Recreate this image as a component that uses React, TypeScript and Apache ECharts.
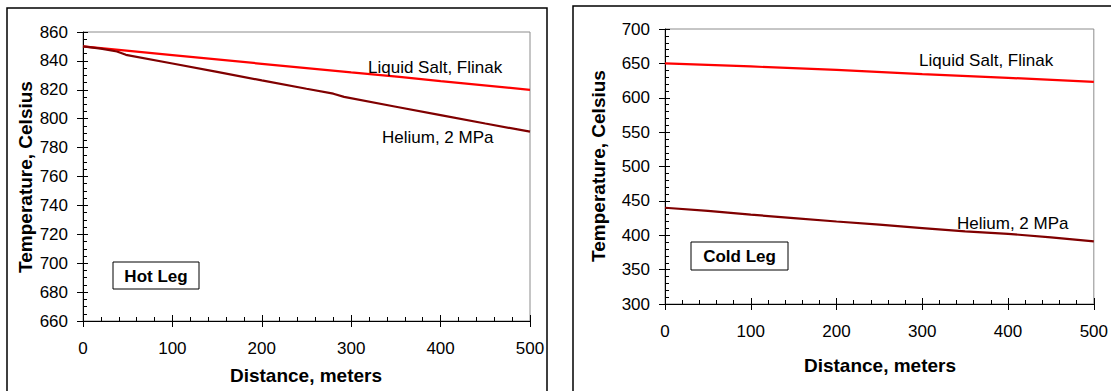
import React, { useEffect, useRef } from "react";
import * as echarts from "echarts";

// Distance (m) vs temperature (°C)
const hotSalt: [number, number][] = [[0, 850], [100, 844], [200, 838], [300, 832], [354, 829], [400, 826], [500, 820]];
const hotHelium: [number, number][] = [
  [0, 850], [20, 848.5], [38, 846.5], [48, 844.2], [100, 838.2], [150, 832.4], [200, 826.5],
  [250, 820.7], [280, 817.3], [292, 815.1], [350, 808.3], [400, 802.5], [450, 796.7], [500, 791],
];
const coldSalt: [number, number][] = [[0, 650], [100, 645.5], [200, 640.5], [300, 634.5], [400, 629], [500, 623]];
const coldHelium: [number, number][] = [
  [0, 440], [50, 435.5], [100, 430], [150, 425], [200, 420], [250, 415.5], [300, 410.5], [350, 405.5], [400, 402], [450, 397], [500, 391],
];
const seriesNames = ["Liquid Salt, Flinak", "Helium, 2 MPa"];
const panelTitles = ["Hot Leg", "Cold Leg"];
const xName = "Distance, meters";
const yName = "Temperature, Celsius";

const FONT = "Liberation Sans, Arial, sans-serif";
const RED = "#ff0000";
const DARK = "#800000";

function xAxes(gridIndex: number) {
  const base = { type: "value", gridIndex, min: 0, max: 500, interval: 100, position: "bottom" };
  return [
    {
      ...base,
      axisLine: { show: true, onZero: false, lineStyle: { color: "#000", width: 1 } },
      axisTick: { show: true, inside: false, length: 6, lineStyle: { color: "#000" } },
      axisLabel: { show: true, color: "#000", fontFamily: FONT, fontSize: 17, margin: 19 },
      splitLine: { show: false },
    },
    {
      ...base,
      axisLine: { show: false, onZero: false },
      axisTick: { show: true, inside: true, length: 6, lineStyle: { color: "#000" } },
      minorTick: { show: true, splitNumber: 5, length: 4, lineStyle: { color: "#000" } },
      axisLabel: { show: false },
      splitLine: { show: false },
    },
  ];
}

function yAxes(gridIndex: number, min: number, max: number, interval: number, minorSplit: number) {
  const base = { type: "value", gridIndex, min, max, interval, position: "left" };
  return [
    {
      ...base,
      axisLine: { show: true, onZero: false, lineStyle: { color: "#000", width: 1 } },
      axisTick: { show: true, inside: false, length: 6, lineStyle: { color: "#000" } },
      axisLabel: { show: true, color: "#000", fontFamily: FONT, fontSize: 17, margin: 15 },
      splitLine: { show: false },
    },
    {
      ...base,
      axisLine: { show: false, onZero: false },
      axisTick: { show: true, inside: true, length: 5, lineStyle: { color: "#000" } },
      minorTick: { show: true, splitNumber: minorSplit, length: 4, lineStyle: { color: "#000" } },
      axisLabel: { show: false },
      splitLine: { show: false },
    },
  ];
}

function line(name: string, data: [number, number][], color: string, axisIndex: number) {
  return {
    type: "line",
    name,
    data,
    xAxisIndex: axisIndex,
    yAxisIndex: axisIndex,
    symbol: "none",
    smooth: false,
    lineStyle: { color, width: 2.2 },
  };
}

function txt(text: string, x: number, y: number, size: number, bold: boolean, align = "left", rotation = 0) {
  return {
    type: "text",
    x,
    y,
    rotation,
    z: 100,
    style: {
      text,
      fill: "#000",
      font: `${bold ? "bold " : ""}${size}px ${FONT}`,
      align,
      verticalAlign: "middle",
    },
  };
}

export default function App() {
  const ref = useRef<HTMLDivElement>(null);
  useEffect(() => {
    if (!ref.current) return;
    const chart = echarts.init(ref.current, null, { renderer: "svg" });
    chart.setOption({
      animation: false,
      backgroundColor: "#fff",
      grid: [
        { left: 83, top: 32, width: 447, height: 289, show: true, borderColor: "#8c8c8c", borderWidth: 1, backgroundColor: "transparent" },
        { left: 665, top: 29, width: 429, height: 275, show: true, borderColor: "#8c8c8c", borderWidth: 1, backgroundColor: "transparent" },
      ],
      xAxis: [...xAxes(0), ...xAxes(1)],
      yAxis: [...yAxes(0, 660, 860, 20, 4), ...yAxes(1, 300, 700, 50, 5)],
      series: [
        line(seriesNames[0], hotSalt, RED, 0),
        line(seriesNames[1], hotHelium, DARK, 0),
        line(seriesNames[0], coldSalt, RED, 2),
        line(seriesNames[1], coldHelium, DARK, 2),
      ],
      graphic: [
        { type: "rect", shape: { x: 7, y: 8, width: 540, height: 420 }, style: { fill: "none", stroke: "#000", lineWidth: 1.5 }, z: 90 },
        { type: "rect", shape: { x: 573, y: 6, width: 560, height: 420 }, style: { fill: "none", stroke: "#000", lineWidth: 1.5 }, z: 90 },
        { type: "rect", shape: { x: 113, y: 262, width: 86, height: 27 }, style: { fill: "#fff", stroke: "#000", lineWidth: 1 }, z: 95 },
        { type: "rect", shape: { x: 691, y: 242, width: 97, height: 28 }, style: { fill: "#fff", stroke: "#000", lineWidth: 1 }, z: 95 },
        txt(panelTitles[0], 156, 276, 17, true, "center"),
        txt(panelTitles[1], 739.5, 256, 17, true, "center"),
        txt(seriesNames[0], 368, 67, 17, false),
        txt(seriesNames[1], 382, 137, 17, false),
        txt(seriesNames[0], 919, 60, 17, false),
        txt(seriesNames[1], 957, 223, 17, false),
        txt(xName, 306, 375, 19, true, "center"),
        txt(xName, 880, 365, 19, true, "center"),
        txt(yName, 25, 177, 19, true, "center", Math.PI / 2),
        txt(yName, 598, 166, 19, true, "center", Math.PI / 2),
      ],
    });
    return () => chart.dispose();
  }, []);
  return <div ref={ref} style={{ position: "fixed", left: 0, top: 0, width: 1111, height: 391 }} />;
}
